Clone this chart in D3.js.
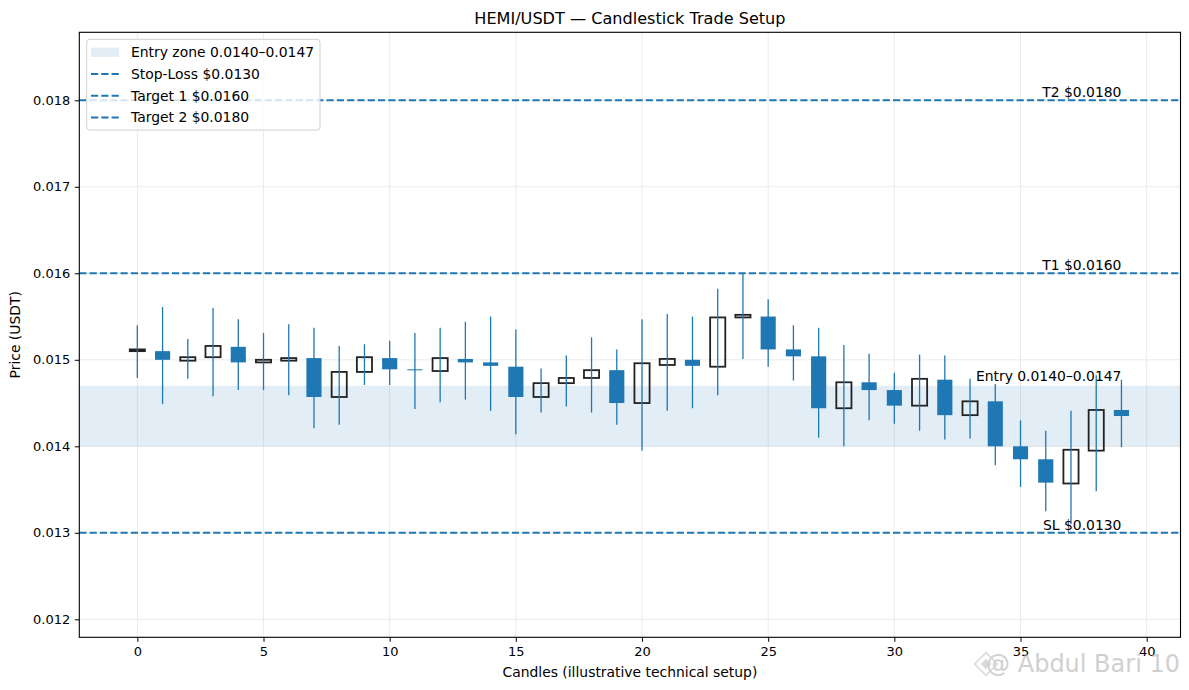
<!DOCTYPE html>
<html>
<head>
<meta charset="utf-8">
<script src="https://cdn.jsdelivr.net/npm/d3@7"></script>
<style>
  body { margin: 0; background: #fff; }
  svg { font-family: "DejaVu Sans", sans-serif; }
</style>
</head>
<body>
<svg width="1189" height="690"></svg>
<script>
// candle values
const opens = [0.01510, 0.01510, 0.01499, 0.01503, 0.01515, 0.01497, 0.01499, 0.01502, 0.01457, 0.01486,
  0.01502, 0.01489, 0.01487, 0.01501, 0.01497, 0.01492, 0.01457, 0.01473, 0.01479, 0.01488,
  0.01450, 0.01494, 0.01500, 0.01492, 0.01549, 0.01550, 0.01512, 0.01504, 0.01444, 0.01474,
  0.01465, 0.01447, 0.01477, 0.01436, 0.01452, 0.01400, 0.01385, 0.01357, 0.01395, 0.01442];
const closes = [0.01512, 0.01500, 0.01503, 0.01516, 0.01497, 0.01500, 0.01502, 0.01457, 0.01486, 0.01503,
  0.01489, 0.01488, 0.01502, 0.01497, 0.01493, 0.01457, 0.01473, 0.01479, 0.01488, 0.01450,
  0.01496, 0.01501, 0.01493, 0.01549, 0.01552, 0.01512, 0.01504, 0.01444, 0.01474, 0.01465,
  0.01447, 0.01478, 0.01436, 0.01452, 0.01400, 0.01385, 0.01358, 0.01396, 0.01442, 0.01435];
const highs = [0.01540, 0.01561, 0.01524, 0.01560, 0.01547, 0.01531, 0.01541, 0.01537, 0.01516, 0.01518,
  0.01522, 0.01531, 0.01537, 0.01544, 0.01550, 0.01535, 0.01490, 0.01505, 0.01526, 0.01512,
  0.01547, 0.01553, 0.01550, 0.01582, 0.01600, 0.01570, 0.01540, 0.01537, 0.01517, 0.01507,
  0.01485, 0.01506, 0.01505, 0.01478, 0.01472, 0.01430, 0.01418, 0.01441, 0.01482, 0.01477];
const lows = [0.01479, 0.01449, 0.01478, 0.01458, 0.01465, 0.01465, 0.01459, 0.01421, 0.01425, 0.01471,
  0.01471, 0.01443, 0.01451, 0.01454, 0.01441, 0.01414, 0.01439, 0.01446, 0.01439, 0.01425,
  0.01395, 0.01441, 0.01444, 0.01459, 0.01501, 0.01492, 0.01476, 0.01410, 0.01400, 0.01430,
  0.01426, 0.01418, 0.01408, 0.01409, 0.01378, 0.01353, 0.01325, 0.01310, 0.01348, 0.01399];

const entryZone = [0.0140, 0.0147];
const levels = [
  { key: "SL", legend: "Stop-Loss $0.0130", value: 0.0130 },
  { key: "T1", legend: "Target 1 $0.0160", value: 0.0160 },
  { key: "T2", legend: "Target 2 $0.0180", value: 0.0180 }
];
const xTicks = [0, 5, 10, 15, 20, 25, 30, 35, 40];
const yTicks = [0.012, 0.013, 0.014, 0.015, 0.016, 0.017, 0.018];

const blue = "#1f77b4";
const dark = "#222";

const svg = d3.select("svg");
const width = 1189;
const height = 690;
const margin = { top: 32.3, right: 8.5, bottom: 52.7, left: 79.3 };
const innerWidth = width - margin.left - margin.right;
const innerHeight = height - margin.top - margin.bottom;

const data = opens.map((o, i) => ({ i, open: o, close: closes[i], high: highs[i], low: lows[i] }));

const xScale = d3.scaleLinear().domain([-2.3, 41.34]).range([0, innerWidth]);
const yScale = d3.scaleLinear().domain([0.011792, 0.018786]).range([innerHeight, 0]);

const g = svg.append("g").attr("transform", `translate(${margin.left}, ${margin.top})`);

// grid
g.append("g").selectAll("line").data(xTicks).enter().append("line")
  .attr("x1", (d) => xScale(d)).attr("x2", (d) => xScale(d))
  .attr("y1", 0).attr("y2", innerHeight)
  .attr("stroke", "#ebebeb").attr("stroke-width", 1);
g.append("g").selectAll("line").data(yTicks).enter().append("line")
  .attr("x1", 0).attr("x2", innerWidth)
  .attr("y1", (d) => yScale(d)).attr("y2", (d) => yScale(d))
  .attr("stroke", "#ebebeb").attr("stroke-width", 1);

// entry zone
g.append("rect")
  .attr("x", 0).attr("width", innerWidth)
  .attr("y", yScale(entryZone[1]))
  .attr("height", yScale(entryZone[0]) - yScale(entryZone[1]))
  .attr("fill", blue).attr("fill-opacity", 0.13);

// level lines
g.selectAll(".level").data(levels).enter().append("line")
  .attr("x1", 0).attr("x2", innerWidth)
  .attr("y1", (d) => yScale(d.value)).attr("y2", (d) => yScale(d.value))
  .attr("stroke", blue).attr("stroke-width", 2)
  .attr("stroke-dasharray", "7.2,3.1");

// candle bodies
const bw = xScale(0.3) - xScale(0);
g.selectAll(".body").data(data).enter().append("rect")
  .attr("x", (d) => xScale(d.i) - bw)
  .attr("width", bw * 2)
  .attr("y", (d) => yScale(Math.max(d.open, d.close)))
  .attr("height", (d) => Math.max(1, Math.abs(yScale(d.open) - yScale(d.close))))
  .attr("fill", (d) => (d.close >= d.open ? "none" : blue))
  .attr("stroke", (d) => (d.close >= d.open ? dark : "none"))
  .attr("stroke-width", 1.8);

// wicks
g.selectAll(".wick").data(data).enter().append("line")
  .attr("x1", (d) => xScale(d.i)).attr("x2", (d) => xScale(d.i))
  .attr("y1", (d) => yScale(d.high)).attr("y2", (d) => yScale(d.low))
  .attr("stroke", blue).attr("stroke-width", 1.3);

// annotations
const labelX = xScale(39);
g.selectAll(".lvl-label").data(levels).enter().append("text")
  .attr("x", labelX).attr("y", (d) => yScale(d.value) - 3)
  .attr("text-anchor", "end").attr("font-size", 13.9)
  .text((d) => `${d.key} $${d.value.toFixed(4)}`);
g.append("text")
  .attr("x", labelX).attr("y", yScale(entryZone[1]) - 4.5)
  .attr("text-anchor", "end").attr("font-size", 13.9)
  .text(`Entry ${entryZone[0].toFixed(4)}–${entryZone[1].toFixed(4)}`);

// axes
const xAxis = g.append("g")
  .attr("transform", `translate(0, ${innerHeight})`)
  .call(d3.axisBottom(xScale).tickValues(xTicks).tickFormat(d3.format("d")).tickSizeOuter(0).tickSize(4.5).tickPadding(4.5));
const yAxis = g.append("g")
  .call(d3.axisLeft(yScale).tickValues(yTicks).tickFormat(d3.format(".3f")).tickSizeOuter(0).tickSize(4.5).tickPadding(4.5));
[xAxis, yAxis].forEach((a) => {
  a.select(".domain").remove();
  a.selectAll("text").attr("font-size", 13).attr("font-family", "DejaVu Sans").attr("fill", "#000");
  a.selectAll("line").attr("stroke", "#000");
});

// frame
g.append("rect")
  .attr("width", innerWidth).attr("height", innerHeight)
  .attr("fill", "none").attr("stroke", "#000").attr("stroke-width", 1.1);

// title and axis labels
svg.append("text")
  .attr("x", margin.left + innerWidth / 2).attr("y", 23.5)
  .attr("text-anchor", "middle").attr("font-size", 16.1)
  .text("HEMI/USDT — Candlestick Trade Setup");
svg.append("text")
  .attr("x", margin.left + innerWidth / 2).attr("y", 677)
  .attr("text-anchor", "middle").attr("font-size", 13.9)
  .text("Candles (illustrative technical setup)");
svg.append("text")
  .attr("transform", `translate(20, ${margin.top + innerHeight / 2}) rotate(-90)`)
  .attr("text-anchor", "middle").attr("font-size", 13.9)
  .text("Price (USDT)");

// legend
const legend = svg.append("g").attr("transform", "translate(86.7, 39.3)");
legend.append("rect")
  .attr("width", 233.3).attr("height", 90.7).attr("rx", 3)
  .attr("fill", "#fff").attr("fill-opacity", 0.8)
  .attr("stroke", "#d0d0d0").attr("stroke-width", 1);
const rowY = (k) => 13 + k * 21.7;
legend.append("rect")
  .attr("x", 4.3).attr("y", rowY(0) - 4.7).attr("width", 28).attr("height", 9.4)
  .attr("fill", blue).attr("fill-opacity", 0.13);
legend.append("text")
  .attr("x", 44.3).attr("y", rowY(0) + 5).attr("font-size", 13.9)
  .text(`Entry zone ${entryZone[0].toFixed(4)}–${entryZone[1].toFixed(4)}`);
levels.forEach((d, k) => {
  legend.append("line")
    .attr("x1", 4.3).attr("x2", 32.3)
    .attr("y1", rowY(k + 1)).attr("y2", rowY(k + 1))
    .attr("stroke", blue).attr("stroke-width", 2).attr("stroke-dasharray", "7.2,3.1");
  legend.append("text")
    .attr("x", 44.3).attr("y", rowY(k + 1) + 5).attr("font-size", 13.9)
    .text(d.legend);
});

// watermark
const wm = svg.append("g").attr("opacity", 0.55);
const logo = wm.append("g").attr("transform", "translate(986, 664) rotate(45)")
  .attr("fill", "none").attr("stroke", "#bbb").attr("stroke-width", 1.6);
logo.append("rect").attr("x", -8).attr("y", -8).attr("width", 16).attr("height", 16);
logo.append("rect").attr("x", -3).attr("y", -3).attr("width", 6).attr("height", 6).attr("fill", "#bbb");
wm.append("text")
  .attr("x", 1180).attr("y", 672).attr("text-anchor", "end")
  .attr("font-size", 24).attr("fill", "#aaa")
  .text("@ Abdul Bari 10");
</script>
</body>
</html>
